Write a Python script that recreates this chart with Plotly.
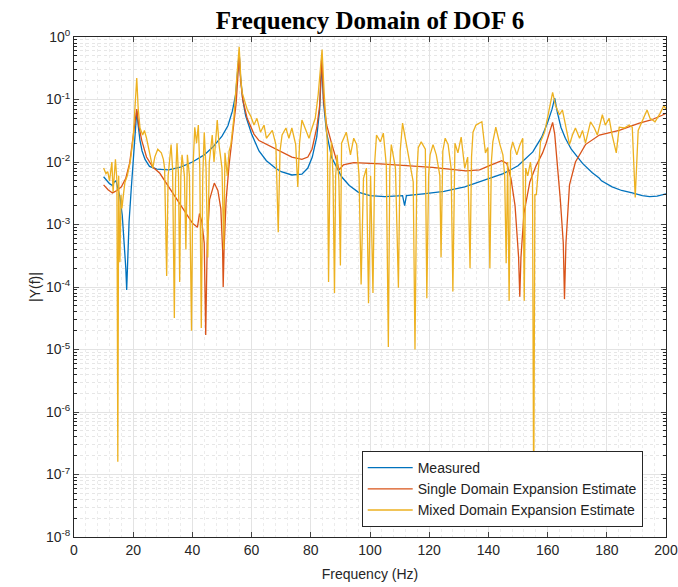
import plotly.graph_objects as go

# Measured response |Y(f)| for DOF 6
meas_f = [10, 11, 12, 13, 13.6, 14.2, 14.8, 15.5, 16.3, 17.0, 17.5, 17.8, 18.1, 18.6, 19.3,
          20.0, 20.6, 21.2, 21.7, 22.3, 23.0, 24.0, 25.5, 28, 32, 36, 40, 44, 47, 50, 52,
          53.5, 54.6, 55.3, 55.8, 56.3, 57, 58, 60, 62.5, 65, 68, 70, 73.6, 77, 79, 80.5,
          82, 83.0, 83.7, 84.3, 85.3, 87, 90.4, 93, 96, 100, 105, 111, 111.7, 112.3, 118,
          125, 132, 140, 145, 150, 155, 158, 160, 161.5, 162.4, 163.2, 164.5, 166, 168,
          171.8, 175, 177.5, 178.2, 181.8, 185, 188.6, 192, 194.5, 197, 200]
meas_y = [5.8e-3, 5.0e-3, 4.5e-3, 4.2e-3, 4.8e-3, 5.0e-3, 4.0e-3, 2.8e-3, 1.4e-3, 5e-4, 2e-4,
          9e-5, 3e-4, 1.1e-3, 3.5e-3, 1.2e-2, 3e-2, 6.5e-2, 3.8e-2, 2.2e-2, 1.5e-2, 1.1e-2,
          8.5e-3, 7.7e-3, 7.5e-3, 8.3e-3, 1e-2, 1.3e-2, 1.75e-2, 2.6e-2, 3.8e-2, 6.5e-2,
          0.12, 0.25, 0.55, 0.22, 0.1, 5.5e-2, 2.8e-2, 1.5e-2, 1.05e-2, 8e-3, 7e-3, 6.2e-3,
          6.4e-3, 8e-3, 1.2e-2, 2.5e-2, 7e-2, 0.4, 9e-2, 3e-2, 1.2e-2, 5.8e-3, 4.2e-3,
          3.3e-3, 2.9e-3, 2.8e-3, 2.9e-3, 2e-3, 2.9e-3, 3.1e-3, 3.4e-3, 4e-3, 5.3e-3,
          6.5e-3, 8.7e-3, 1.45e-2, 2.5e-2, 4.3e-2, 7e-2, 0.105, 6.5e-2, 3.6e-2, 2.4e-2,
          1.6e-2, 9.5e-3, 6.8e-3, 5.5e-3, 5.0e-3, 4e-3, 3.5e-3, 3.2e-3, 2.9e-3, 2.8e-3,
          2.85e-3, 3.1e-3]

# Single domain expansion estimate
single_f = [10, 11.5, 13, 14.5, 16, 17.5, 18.8, 19.8, 20.5, 21.2, 21.8, 22.9, 24.5, 26.6, 29,
            32, 34.6, 37, 40, 41.7, 42.4, 43.2, 44.0, 44.5, 45.0, 45.8, 47.4, 48.6, 49.6,
            50.2, 50.4, 50.7, 51.4, 52.4, 53.5, 54.8, 55.4, 55.8, 56.3, 57, 58.5, 60.8, 62.5,
            66.5, 70, 73.6, 77, 79, 80.4, 82, 83.0, 83.7, 84.3, 85.3, 87, 88.5, 89.6, 91,
            94.5, 103.5, 112, 121, 132.4, 137, 141, 144.5, 146.2, 147.6, 149.0, 150.2, 150.6,
            151.0, 152, 154, 156, 158.3, 159.5, 161, 161.7, 162.4, 163.3, 164.3, 165.3, 165.7,
            166.2, 167.4, 169.4, 172.8, 177.5, 184.2, 191, 195, 198.7, 200]
single_y = [4.3e-3, 3.6e-3, 3.2e-3, 3.5e-3, 4e-3, 5.5e-3, 9.6e-3, 2.3e-2, 4.5e-2, 7e-2, 4e-2,
            2.2e-2, 1.2e-2, 8.3e-3, 6.6e-3, 4e-3, 2.5e-3, 1.7e-3, 1.05e-3, 9e-4, 1.5e-3,
            1.1e-3, 5e-4, 1.7e-5, 5e-4, 2.5e-3, 4.6e-3, 3.5e-3, 1.8e-3, 4e-4, 1e-4, 4e-4,
            2.5e-3, 9e-3, 2.7e-2, 9e-2, 0.25, 0.55, 0.2, 0.1, 5e-2, 2.8e-2, 2.2e-2, 1.75e-2,
            1.45e-2, 1.2e-2, 1.1e-2, 1.2e-2, 1.6e-2, 3.5e-2, 8e-2, 0.5, 0.1, 4e-2, 2e-2,
            1.1e-2, 7.5e-3, 9e-3, 9.8e-3, 9.3e-3, 8.7e-3, 8.2e-3, 7.2e-3, 7.5e-3, 9e-3,
            1.05e-2, 9.5e-3, 5.5e-3, 2e-3, 3e-4, 7e-5, 3e-4, 1.5e-3, 4.8e-3, 8.5e-3, 1.4e-2,
            2e-2, 3.3e-2, 4.3e-2, 2.8e-2, 1e-2, 2.5e-3, 5e-4, 6.4e-5, 5e-4, 4.3e-3, 1e-2,
            1.9e-2, 2.7e-2, 3.2e-2, 4.2e-2, 4.7e-2, 5.6e-2, 6e-2]

# Mixed domain expansion estimate
mixed_f = [10.0, 10.8, 11.4, 12.0, 12.8, 13.2, 13.6, 14.0, 14.5, 14.8, 15.1, 15.5, 15.9, 16.2,
           16.7, 17.2, 18.0, 19.0, 20.0, 20.7, 21.2, 21.7, 22.3, 23.2, 23.8, 24.5, 25.3, 26.0,
           26.6, 27.3, 28.3, 29.5, 30.2, 30.6, 31.3, 31.8, 32.3, 32.8, 33.3, 33.9, 34.3, 34.8,
           35.3, 35.7, 36.1, 36.5, 37.3, 37.8, 38.3, 39.0, 39.7, 40.2, 40.8, 41.4, 42.0, 42.5,
           43.0, 43.5, 44.0, 44.6, 45.2, 45.7, 46.7, 47.3, 47.8, 48.4, 49.0, 50.0, 50.6, 51.0,
           51.8, 52.4, 53.0, 54.0, 54.8, 55.8, 56.4, 56.8, 57.8, 58.5, 59.2, 59.8, 60.8, 61.8,
           63.0, 64.2, 65.0, 65.9, 67.0, 68.2, 69.0, 69.6, 70.3, 71.6, 72.6, 73.6, 74.9, 75.6,
           76.2, 77.0, 78.3, 79.4, 80.4, 81.5, 82.5, 83.8, 84.5, 85.0, 85.6, 86.0, 86.5, 87.0,
           87.5, 88.0, 88.4, 88.9, 89.5, 90.0, 90.4, 92.0, 93.4, 94.5, 95.5, 96.3, 97.0, 97.8,
           98.8, 99.5, 100.2, 101.0, 101.6, 102.2, 103.5, 104.5, 105.5, 106.2, 106.7, 107.2,
           108.6, 109.6, 110.2, 111.0, 112.3, 113.6, 114.6, 115.2, 115.8, 116.3, 117.3, 118.7,
           119.2, 119.8, 120.3, 121.3, 122.4, 123.6, 124.0, 124.6, 125.4, 126.4, 127.4, 128.0,
           128.7, 129.7, 130.8, 132.0, 133.0, 133.8, 134.3, 134.8, 135.8, 137.0, 137.8, 139.0,
           139.8, 140.5, 141.0, 141.5, 142.5, 143.9, 144.9, 145.5, 146.0, 146.5, 147.0, 147.5,
           148.2, 149.6, 150.5, 151.6, 152.1, 152.6, 153.3, 154.2, 154.9, 155.3, 155.7, 156.2,
           157.0, 157.6, 159.0, 160.0, 161.0, 161.7, 162.7, 164.0, 165.0, 166.0, 167.4, 168.4,
           169.4, 170.8, 171.8, 172.8, 174.5, 175.8, 176.8, 178.5, 179.5, 180.8, 181.8, 183.2,
           184.2, 185.9, 187.6, 188.6, 189.6, 190.6, 191.9, 193.6, 194.6, 196.3, 198.0, 199.3,
           200.0]
mixed_y = [8e-3, 6.5e-3, 7e-3, 5e-3, 1e-2, 3.3e-3, 6e-3, 1.1e-2, 5e-3, 1.6e-7, 6e-3, 2.5e-4,
           3e-3, 1.8e-3, 3e-3, 4.7e-3, 6e-3, 1e-2, 2.5e-2, 8e-2, 0.22, 7e-2, 3.5e-2, 2.7e-2,
           3.2e-2, 2.4e-2, 1.6e-2, 1.2e-2, 8e-3, 1.2e-2, 1.6e-2, 1.4e-2, 1.1e-2, 8e-3, 1.5e-4,
           6e-3, 1e-2, 1.9e-2, 8e-3, 3.2e-5, 5e-3, 2e-2, 6e-3, 1.2e-4, 6e-3, 1.3e-2, 6e-3,
           4e-4, 1.3e-2, 6e-3, 2e-5, 8e-3, 3.6e-2, 2e-2, 3.9e-2, 8e-3, 2.2e-5, 6e-3, 3e-2,
           8e-3, 3e-4, 1e-2, 2.7e-2, 1e-2, 2e-2, 4.7e-2, 1.9e-2, 8e-3, 4e-4, 1.4e-2, 6e-3,
           1.5e-2, 1.9e-2, 5e-2, 0.17, 0.7, 0.2, 0.13, 9e-2, 7e-2, 6e-2, 5.3e-2, 3.9e-2, 5e-2,
           3e-2, 3.9e-2, 2.4e-2, 2.7e-2, 3.2e-2, 1.9e-2, 7.5e-4, 1.5e-2, 2.7e-2, 3.5e-2,
           2.4e-2, 3.5e-2, 1.9e-2, 4e-3, 2e-2, 4.7e-2, 3.2e-2, 2.4e-2, 3.5e-2, 5e-2, 0.12,
           0.63, 0.13, 4.4e-2, 1.9e-2, 1.2e-4, 1e-2, 2.1e-2, 6e-3, 8e-5, 6e-3, 1.3e-2, 5e-3,
           2.2e-4, 2e-2, 3e-2, 1.3e-2, 2.4e-2, 1.9e-2, 6e-3, 1.1e-4, 5.5e-3, 8e-3, 5.5e-5,
           6e-3, 8e-5, 1e-2, 2.7e-2, 2.1e-2, 2.9e-2, 9e-3, 1.1e-5, 8e-3, 1.9e-2, 8e-3, 9.7e-5,
           1.5e-2, 4.2e-2, 1.9e-2, 1e-2, 4.8e-3, 1e-5, 6e-3, 1.7e-2, 2.1e-2, 1.6e-2, 6.6e-5,
           6e-3, 1.3e-2, 1.9e-2, 1.3e-2, 6e-3, 3e-4, 1.5e-2, 2.4e-2, 1.9e-2, 8e-3, 8.5e-5,
           2e-2, 1.4e-2, 2.5e-2, 8e-3, 1.2e-2, 2e-4, 1.2e-2, 3e-2, 3.9e-2, 4.2e-2, 4.4e-2,
           1.4e-2, 1.7e-2, 2e-4, 1e-2, 2.1e-2, 3.6e-2, 1.9e-2, 1.3e-2, 6e-3, 2.4e-4, 1e-2,
           6e-5, 1.5e-2, 2.1e-2, 1.3e-2, 1.8e-2, 2.4e-2, 6e-5, 8e-3, 6e-3, 1e-2, 5e-3, 3e-8,
           3e-3, 3e-3, 8e-3, 2.1e-2, 3e-2, 5e-2, 8e-2, 0.13, 8e-2, 5.7e-2, 6.8e-2, 3.9e-2,
           1.9e-2, 2.7e-2, 3.5e-2, 2.4e-2, 3.2e-2, 2e-2, 4.4e-2, 3.5e-2, 2.7e-2, 5.7e-2,
           3.9e-2, 5e-2, 2.7e-2, 1.4e-2, 3.6e-2, 3.5e-2, 3.9e-2, 3.6e-2, 2.7e-3, 3.2e-2,
           4.4e-2, 6.8e-2, 5e-2, 4.4e-2, 6e-2, 8e-2, 7e-2]

x_ticks = list(range(0, 201, 20))
y_exps = list(range(-8, 1))
y_ticks = [10.0 ** e for e in y_exps]
y_labels = ["10<sup>%d</sup>" % e for e in y_exps]
y_minor = [m * 10.0 ** e for e in y_exps[:-1] for m in range(2, 10)]
x_minor = [v for v in range(0, 201, 4) if v % 20]

series = [
    ("Measured", meas_f, meas_y, "#0072BD"),
    ("Single Domain Expansion Estimate", single_f, single_y, "#D95319"),
    ("Mixed Domain Expansion Estimate", mixed_f, mixed_y, "#EDB120"),
]

fig = go.Figure()
for name, f, y, color in series:
    fig.add_trace(go.Scatter(x=f, y=y, mode="lines", name=name,
                             line=dict(color=color, width=1.3)))

axis_color = "#262626"
font_family = "Liberation Sans, Arial, sans-serif"

fig.update_layout(
    width=678, height=587,
    margin=dict(l=74, r=12, t=37, b=50, autoexpand=False),
    paper_bgcolor="white", plot_bgcolor="white",
    font=dict(family=font_family, size=13, color=axis_color),
    title=dict(text="<b>Frequency Domain of DOF 6</b>", x=0.5, xref="paper",
               xanchor="center", y=0.966, yref="container", yanchor="middle",
               font=dict(family="Liberation Serif, Times New Roman, serif", size=25,
                         color="black")),
    showlegend=True,
    legend=dict(x=0.486, y=0.172, xanchor="left", yanchor="top",
                bgcolor="white", bordercolor="#262626", borderwidth=1,
                font=dict(family=font_family, size=14, color="#222222"),
                itemwidth=45, tracegroupgap=0),
)

fig.update_xaxes(
    range=[0, 200], tickvals=x_ticks, ticks="inside", ticklen=5,
    showline=True, linecolor=axis_color, linewidth=1, mirror="ticks",
    showgrid=True, gridcolor="#e3e3e3", gridwidth=1, zeroline=False,
    tickfont=dict(size=14), ticklabeloverflow="allow", automargin=False,
    title=dict(text="Frequency (Hz)", font=dict(size=14), standoff=12),
    minor=dict(tickvals=x_minor, showgrid=True, gridcolor="#ececec", griddash="dot",
               ticks=""),
)
fig.update_yaxes(
    type="log", range=[-8, 0], tickvals=y_ticks, ticktext=y_labels,
    ticks="inside", ticklen=5, automargin=False,
    showline=True, linecolor=axis_color, linewidth=1, mirror="ticks",
    showgrid=True, gridcolor="#e3e3e3", gridwidth=1, zeroline=False,
    tickfont=dict(size=14),
    title=dict(text="|Y(f)|", font=dict(size=14), standoff=2),
    minor=dict(tickvals=y_minor, showgrid=True, gridcolor="#e6e6e6", griddash="dot",
               ticks="inside", ticklen=3, tickcolor=axis_color),
)

fig.write_html("out.html")
